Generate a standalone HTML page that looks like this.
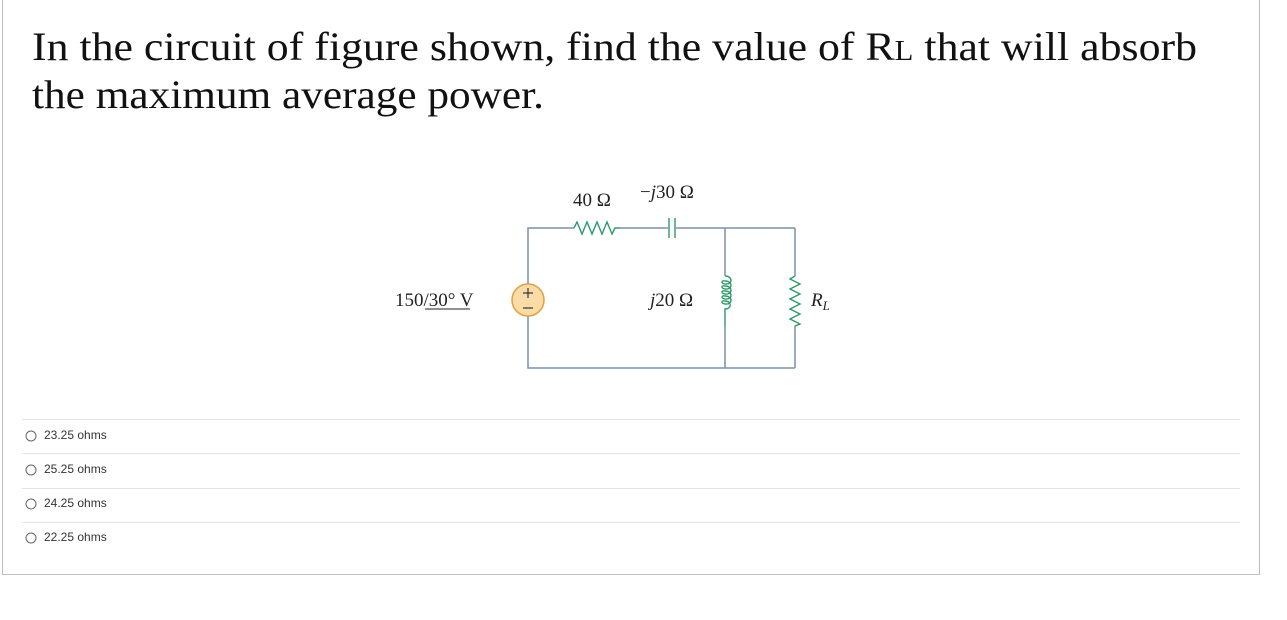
<!DOCTYPE html>
<html><head><meta charset="utf-8"><style>
html,body{margin:0;padding:0;background:#fff;width:1287px;height:620px;overflow:hidden}
</style></head><body>
<svg width="1287" height="620" xmlns="http://www.w3.org/2000/svg" style="position:absolute;left:0;top:0">
<rect x="2.5" y="-5" width="1257" height="579.5" fill="#fff" stroke="#bdbdbd" stroke-width="1"/>
<g font-family="Liberation Serif, serif" font-size="40" fill="#111">
<text x="32" y="60" textLength="1165" lengthAdjust="spacingAndGlyphs">In the circuit of figure shown, find the value of R<tspan font-size="28">L</tspan> that will absorb</text>
<text x="32" y="108" textLength="512" lengthAdjust="spacingAndGlyphs">the maximum average power.</text>
</g>
<!-- wires -->
<g stroke="#7a90a8" stroke-width="1.5" fill="none">
<polyline points="528,284 528,228 574,228"/>
<line x1="620" y1="228" x2="668" y2="228"/>
<line x1="676" y1="228" x2="795" y2="228"/>
<polyline points="528,316 528,368 795,368"/>
<line x1="725" y1="228" x2="725" y2="276"/>
<line x1="725" y1="326" x2="725" y2="368"/>
<line x1="795" y1="228" x2="795" y2="276"/>
<line x1="795" y1="326" x2="795" y2="368"/>
</g>
<g stroke="#2e9a6a" stroke-width="1.4" fill="none">
<polyline points="574,228 577,222 582,234 587,222 592,234 597,222 602,234 607,222 612,234 615,228 620,228"/>
<line x1="669" y1="218" x2="669" y2="238"/>
<line x1="675" y1="218" x2="675" y2="238"/>
<path d="M725,276 c8,0 8,9 0,8 c-5,-1 -3,-4 0,-3 c8,0 8,9 0,8 c-5,-1 -3,-4 0,-3 c8,0 8,9 0,8 c-5,-1 -3,-4 0,-3 c8,0 8,9 0,8 c-5,-1 -3,-4 0,-3 c8,0 8,9 0,8 c-5,-1 -3,-4 0,-3 c7,0 7,8 0,8 L725,326"/>
<polyline points="795,276 790,279 800,284 790,289 800,294 790,299 800,304 790,309 800,314 790,319 800,324 795,326"/>
</g>
<circle cx="528" cy="300" r="16" fill="#fbdca6" stroke="#e0a040" stroke-width="1.5"/>
<g stroke="#333" stroke-width="1.2">
<line x1="523" y1="293" x2="533" y2="293"/><line x1="528" y1="288" x2="528" y2="298"/>
<line x1="523" y1="308" x2="533" y2="308"/>
</g>
<g font-family="Liberation Serif, serif" font-size="19" fill="#222">
<text x="573" y="206">40 Ω</text>
<text x="640" y="198">−<tspan font-style="italic">j</tspan>30 Ω</text>
<text x="650" y="306"><tspan font-style="italic">j</tspan>20 Ω</text>
<text x="811" y="306" font-style="italic">R<tspan font-size="13" dy="4">L</tspan></text>
<text x="395" y="306">150<tspan>/</tspan>30° V</text>
</g>
<line x1="425" y1="309" x2="470" y2="309" stroke="#222" stroke-width="1"/>
<!-- options -->
<g stroke="#e3e3e3" stroke-width="1">
<line x1="22" y1="419.5" x2="1240" y2="419.5"/>
<line x1="22" y1="453.5" x2="1240" y2="453.5"/>
<line x1="22" y1="488.5" x2="1240" y2="488.5"/>
<line x1="22" y1="522.5" x2="1240" y2="522.5"/>
</g>
<g fill="none" stroke="#666" stroke-width="1">
<circle cx="31" cy="436" r="5"/><circle cx="31" cy="470" r="5"/>
<circle cx="31" cy="504" r="5"/><circle cx="31" cy="538" r="5"/>
</g>
<g font-family="Liberation Sans, sans-serif" font-size="12" fill="#333">
<text x="44" y="439">23.25 ohms</text>
<text x="44" y="473">25.25 ohms</text>
<text x="44" y="507">24.25 ohms</text>
<text x="44" y="541">22.25 ohms</text>
</g>
</svg>
</body></html>
